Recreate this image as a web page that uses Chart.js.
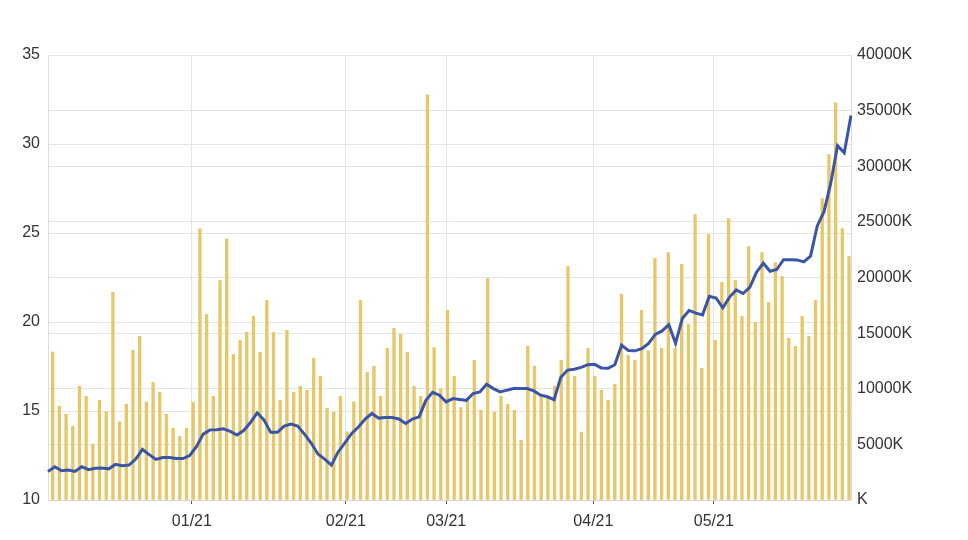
<!DOCTYPE html>
<html>
<head>
<meta charset="utf-8">
<script src="https://cdn.jsdelivr.net/npm/chart.js@4.4.1/dist/chart.umd.min.js"></script>
<style>
  html, body { margin: 0; padding: 0; background: #ffffff; }
  #wrap { width: 968px; height: 540px; }
</style>
</head>
<body>
<div id="wrap"><canvas id="c" width="968" height="540"></canvas></div>
<script>
// ---- data ----
const months = ['12/20', '01/21', '02/21', '03/21', '04/21', '05/21'];
const barsPerMonth = [21, 23, 15, 22, 18, 21];
const tickLabels = ['01/21', '02/21', '03/21', '04/21', '05/21'];

// volume, in thousands (K)
const volumeK = [
  13300, 8430, 7710, 6640, 10230, 9330, 5020, 8970, 7950, 18660,
  7030, 8610, 13460, 14710, 8790, 10580, 9690, 7710, 6460, 5740,
  6460, 8790, 24370, 16680, 9330, 19730, 23470, 13100, 14350, 15070,
  16500, 13280, 17940, 15070, 8970, 15250, 9690, 10230, 9870, 12740,
  11120, 8250, 7890, 9330, 6130, 8820, 17940, 11480, 12020, 9330,
  13630, 15430, 14890, 13280, 10230, 9330, 36420, 13700, 10000, 17040,
  11120, 8300, 9000, 12560, 8070, 19910, 7890, 9330, 8610, 8070,
  5380, 13810, 12020, 9510, 9330, 10230, 12560, 20990, 11120, 6100,
  13630, 11120, 9870, 8970, 10410, 18480, 13000, 12560, 17040, 13420,
  21710, 13630, 22250, 13630, 21170, 15790, 25660, 11840, 23860, 14350,
  19550, 25300, 19730, 16500, 22780, 15970, 22250, 17760, 21350, 20090,
  14530, 13810, 16500, 14710, 17940, 27090, 31040, 35700, 24400, 21890
];

// price (left axis)
const price = [
  11.6, 11.87, 11.64, 11.68, 11.6, 11.87, 11.7, 11.78, 11.8, 11.75,
  12.0, 11.92, 11.96, 12.3, 12.84, 12.55, 12.28, 12.39, 12.39, 12.33,
  12.33, 12.5, 13.0, 13.7, 13.94, 13.95, 14.0, 13.85, 13.65, 13.9,
  14.35, 14.9, 14.5, 13.8, 13.8, 14.15, 14.26, 14.15, 13.7, 13.2,
  12.58, 12.3, 11.96, 12.7, 13.21, 13.74, 14.1, 14.55, 14.86, 14.6,
  14.63, 14.63, 14.55, 14.3, 14.55, 14.67, 15.6, 16.05, 15.89, 15.51,
  15.7, 15.65, 15.6, 15.98, 16.07, 16.5, 16.26, 16.07, 16.17, 16.26,
  16.26, 16.26, 16.13, 15.89, 15.8, 15.64, 16.9, 17.3, 17.35, 17.45,
  17.6, 17.62, 17.42, 17.4, 17.6, 18.7, 18.4, 18.38, 18.5, 18.8,
  19.3, 19.5, 19.85, 18.8, 20.2, 20.65, 20.5, 20.4, 21.45, 21.35,
  20.8, 21.4, 21.8, 21.6, 21.95, 22.8, 23.3, 22.85, 22.95, 23.5,
  23.5, 23.49, 23.38, 23.7, 25.4, 26.2, 27.8, 29.9, 29.5, 31.6
];

const leftMin = 10, leftMax = 35, leftStep = 5;
const rightMin = 0, rightMax = 40000, rightStep = 5000;

// categories: one per bar, grouped by month
const categories = [];
months.forEach((m, i) => {
  for (let d = 1; d <= barsPerMonth[i]; d++) categories.push(m + '#' + d);
});

function tickText(i) {
  const c = categories[i];
  if (!c) return '';
  const parts = c.split('#');
  return (parts[1] === '1' && tickLabels.includes(parts[0])) ? parts[0] : '';
}

const FONT = '"Liberation Sans", Arial, sans-serif';
const GRID = '#e4e4e4';
const TEXT = '#333333';

new Chart(document.getElementById('c'), {
  data: {
    labels: categories,
    datasets: [
      {
        type: 'line',
        data: price,
        xAxisID: 'x2',
        yAxisID: 'y',
        borderColor: '#3a55a5',
        borderWidth: 3,
        pointRadius: 0,
        tension: 0,
        order: 0
      },
      {
        type: 'bar',
        data: volumeK,
        xAxisID: 'x',
        yAxisID: 'y1',
        backgroundColor: '#e6c86a',
        barThickness: 2.7,
        order: 1
      }
    ]
  },
  options: {
    responsive: false,
    animation: false,
    events: [],
    layout: { padding: { top: 55, left: 0, right: 0, bottom: 0 } },
    plugins: { legend: { display: false }, tooltip: { enabled: false } },
    scales: {
      x: {
        type: 'category',
        position: 'bottom',
        offset: true,
        afterFit: s => { s.height = 40; },
        border: { color: '#d4d4d4' },
        grid: {
          offset: false,
          drawTicks: true,
          tickLength: 4,
          color: ctx => tickText(ctx.index) ? GRID : 'rgba(0,0,0,0)',
          tickColor: ctx => tickText(ctx.index) ? '#555555' : 'rgba(0,0,0,0)'
        },
        ticks: {
          autoSkip: false,
          maxRotation: 0,
          minRotation: 0,
          padding: 8,
          color: TEXT,
          font: { family: FONT, size: 16 },
          callback: (v, i) => tickText(i)
        }
      },
      x2: {
        type: 'category',
        offset: false,
        display: false
      },
      y: {
        position: 'left',
        min: leftMin,
        max: leftMax,
        afterFit: s => { s.width = 48; },
        border: { color: '#dcdcdc' },
        grid: { color: GRID, drawTicks: false },
        ticks: {
          stepSize: leftStep,
          padding: 8,
          color: TEXT,
          font: { family: FONT, size: 16 }
        }
      },
      y1: {
        position: 'right',
        min: rightMin,
        max: rightMax,
        afterFit: s => { s.width = 117; },
        border: { color: '#dcdcdc' },
        grid: { color: GRID, drawTicks: false },
        ticks: {
          stepSize: rightStep,
          padding: 6,
          color: TEXT,
          font: { family: FONT, size: 16 },
          callback: v => (v === 0 ? 'K' : v + 'K')
        }
      }
    }
  }
});
</script>
</body>
</html>
